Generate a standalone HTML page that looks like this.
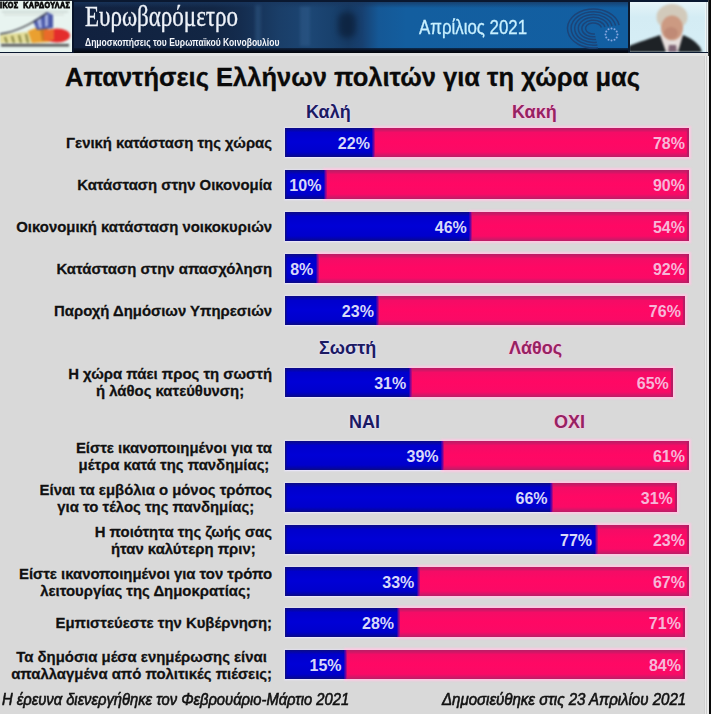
<!DOCTYPE html>
<html><head><meta charset="utf-8">
<style>
*{margin:0;padding:0;box-sizing:border-box}
html,body{width:711px;height:714px;overflow:hidden;background:#d9d9d9;font-family:"Liberation Sans",sans-serif}
#root{position:relative;width:711px;height:714px;background:#d9d9d9}
.abs{position:absolute}
#hdr{position:absolute;left:0;top:0;width:711px;height:56px;background:#e8e8e8}
.bar{position:absolute;height:29px}
.hb{position:absolute;left:0;top:0;height:29px;box-shadow:0 0 1.5px 1.5px rgba(234,230,252,.9)}
.hpk{position:absolute;top:0;height:29px;box-shadow:0 0 1.8px 1.6px rgba(255,200,226,.9)}
.b{position:absolute;left:0;top:0;height:29px;background:linear-gradient(180deg,#0c0c84 0,#0606a6 2px,#0000cc 4.5px,#0000d6 14px,#0000cc 24px,#0404a8 27px,#0c0c80 29px);box-shadow:inset 1.5px 0 1px #0c0c8a;color:#d8d8f8;font-weight:bold;font-size:16px;text-align:right;line-height:31px;padding-right:4px}
.p{position:absolute;top:0;height:29px;background:linear-gradient(180deg,#bc1e66 0,#cc1866 2px,#f40c66 4.5px,#ff0864 14px,#fa0a66 24px,#d41668 27px,#bc1e66 29px);box-shadow:inset -2px 0 1px #b41c64;color:#f6b6d8;font-weight:bold;font-size:16px;text-align:right;line-height:31px;padding-right:4px}
.bl{position:absolute;top:0;width:3px;height:29px;background:linear-gradient(90deg,rgba(30,0,190,.9),rgba(200,10,120,.9))}
.lab{position:absolute;right:439px;font-weight:bold;font-size:14.9px;color:#111;text-align:center;white-space:nowrap;line-height:17.2px;-webkit-text-stroke:0.3px #111;text-shadow:0 0 2px rgba(240,240,240,.8)}
.hk{position:absolute;font-weight:bold;font-size:18px;color:#1c1a62;white-space:nowrap;line-height:20px;text-shadow:0 0 2.5px rgba(232,228,255,1),0 0 1.5px rgba(232,228,255,1)}
.hp{position:absolute;font-weight:bold;font-size:18px;color:#962262;white-space:nowrap;line-height:20px;text-shadow:0 0 2.5px rgba(255,195,228,1),0 0 1.5px rgba(255,195,228,1)}
.foot{position:absolute;font-style:italic;font-size:16px;color:#111;white-space:nowrap;line-height:17px;transform-origin:0 0;transform:scaleX(0.914);-webkit-text-stroke:0.6px #111}
</style></head><body><div id="root">
<div id="hdr">
  <div class="abs" style="left:0;top:0;width:711px;height:56px;background:#e4e4e4"></div>
  <div class="abs" style="left:0;top:0;width:711px;height:53px;background:#0a1830"></div>
  <div class="abs" style="left:74px;top:2px;width:554px;height:48px;background:linear-gradient(90deg,#11213f 0%,#122644 25%,#142c4e 30%,#1a3e68 37%,#1c4674 43%,#18406c 47%,#163a64 49.5%,#174070 52%,#155896 55%,#135e9f 60%,#125fa2 100%)"></div>
  <div class="abs" style="left:255px;top:4px;width:6px;height:44px;background:rgba(80,130,180,.22);filter:blur(1.5px)"></div>
  <div class="abs" style="left:300px;top:6px;width:10px;height:40px;background:rgba(90,140,190,.18);filter:blur(1.5px)"></div>
  <div class="abs" style="left:74px;top:2px;width:554px;height:6px;background:linear-gradient(180deg,rgba(25,55,95,.75),rgba(25,55,95,0))"></div>
  <div class="abs" style="left:338px;top:12px;width:18px;height:26px;background:rgba(6,16,34,.5);border-radius:8px;filter:blur(3px)"></div>
  <div class="abs" style="left:74px;top:48px;width:554px;height:5px;background:linear-gradient(180deg,rgba(10,22,44,.7) 0,#060c1a 60%,#02060c 100%)"></div>
  <!-- logo box -->
  <div class="abs" style="left:0;top:0;width:72px;height:52px;background:#e8f4f0;overflow:hidden">
    <div class="abs" style="left:0px;top:0px;font-weight:bold;font-size:9px;color:#0c0c0c;line-height:10px;white-space:nowrap;transform-origin:0 0;transform:scaleX(0.8);-webkit-text-stroke:0.9px #0c0c0c;letter-spacing:0.5px;filter:blur(0.3px)">ΙΚΟΣ&nbsp;&nbsp;ΚΑΡΔΟΥΛΑΣ</div>
    <svg class="abs" style="left:0;top:0;filter:blur(0.9px)" width="72" height="52" viewBox="0 0 72 52">
      <rect x="2" y="11" width="66" height="1.5" fill="#c8d4d0"/>
      <rect x="4" y="14" width="60" height="1.2" fill="#d4dcd8"/>
      <path d="M0 35 L0 43 L36 43 L34 31 Z" fill="#e2dc98"/>
      <path d="M5 37 L7 43 M12 36 L14 43 M19 35 L21 43 M26 34 L28 43" stroke="#7c7a38" stroke-width="1.8"/>
      <path d="M28 31 L46 24 L50 42 L32 43 Z" fill="#eaa030"/>
      <path d="M40 29 L48 27 L48 40 L42 41Z" fill="#c87a20"/>
      <ellipse cx="57" cy="35.5" rx="13" ry="7" fill="#e42c2c"/>
      <path d="M44 30 L54 29 L54 40 L44 41Z" fill="#ea6a2a"/>
      <path d="M33 21 L47 12 L53 15 L53 28 L37 30 Z" fill="#4a58a8"/>
      <path d="M37 20 L41 18 L42 28 L39 28Z M45 15 L48 14 L48 26 L45 27Z" fill="#a8b4e4"/>
      <path d="M0 34 Q22 31 47 13" fill="none" stroke="#3c3c44" stroke-width="1.5"/>
      <rect x="1" y="44" width="68" height="2.5" fill="#505050"/>
    </svg>
  </div>
  <div class="abs" style="left:0;top:0;width:72px;height:1px;background:#20242c"></div>
  <div class="abs" style="left:72px;top:0;width:2px;height:53px;background:#08142a"></div>
  <!-- title -->
  <div class="abs" style="left:84.5px;top:-1.5px;font-family:'Liberation Serif',serif;font-size:29.5px;color:#eef2f8;white-space:nowrap;transform-origin:0 0;transform:scaleX(0.78);line-height:34px;-webkit-text-stroke:0.35px #eef2f8">Ευρωβαρόμετρο</div>
  <div class="abs" style="left:85px;top:36.5px;font-weight:bold;font-size:10px;color:#f4f6fa;white-space:nowrap;transform-origin:0 0;transform:scaleX(0.855);line-height:12px">Δημοσκοπήσεις του Ευρωπαϊκού Κοινοβουλίου</div>
  <div class="abs" style="left:419px;top:15.5px;font-size:20px;color:#c8f0ff;white-space:nowrap;transform-origin:0 0;transform:scaleX(0.843);line-height:23px;-webkit-text-stroke:0.3px #c8f0ff">Απρίλιος 2021</div>
  <!-- EU parliament logo -->
  <svg class="abs" style="left:562px;top:3px;filter:blur(0.6px)" width="66" height="50" viewBox="0 0 66 50">
    <g fill="none" stroke="#1c4478" stroke-width="1.5">
<path d="M57.1 22.1 A26.0 19.5 0 1 0 36.0 44.7"/>
<path d="M53.6 22.6 A22.4 16.7 0 1 0 35.4 41.9"/>
<path d="M50.0 23.1 A18.8 13.9 0 1 0 34.8 39.2"/>
<path d="M46.5 23.6 A15.2 11.1 0 1 0 34.1 36.4"/>
<path d="M42.9 24.1 A11.6 8.3 0 1 0 33.5 33.7"/>
<path d="M39.4 24.5 A8.0 5.5 0 1 0 32.9 30.9"/>
    </g>
    <g fill="#88a8e0"><circle cx="55.5" cy="31.5" r="1"/><circle cx="54.7" cy="34.5" r="1"/><circle cx="52.5" cy="36.7" r="1"/><circle cx="49.5" cy="37.5" r="1"/><circle cx="46.5" cy="36.7" r="1"/><circle cx="44.3" cy="34.5" r="1"/><circle cx="43.5" cy="31.5" r="1"/><circle cx="44.3" cy="28.5" r="1"/><circle cx="46.5" cy="26.3" r="1"/><circle cx="49.5" cy="25.5" r="1"/><circle cx="52.5" cy="26.3" r="1"/><circle cx="54.7" cy="28.5" r="1"/></g>
  </svg>
  <div class="abs" style="left:628px;top:0;width:2px;height:53px;background:#0c1a2e"></div>
  <!-- photo -->
  <div class="abs" style="left:630px;top:2px;width:78px;height:50px;background:linear-gradient(180deg,#e6f4f8 0%,#d4ecf4 30%,#d6eef6 100%);overflow:hidden">
    <svg class="abs" style="left:-1px;top:0;filter:blur(1px)" width="80" height="50" viewBox="0 0 80 50">
      <rect x="0" y="0" width="80" height="1" fill="#f4fafc"/>
      <ellipse cx="43" cy="15" rx="15.5" ry="13" fill="#d2cabb"/>
      <path d="M0 50 L0 44 C10 40 22 36 31 33 L40 44 L47 44 L54 33 C62 36 67 40 71 45 L73 50 Z" fill="#1e2226"/>
      <path d="M31 33 L36 32 L43 40 L50 32 L54 33 L49 50 L37 50 Z" fill="#e6dedc"/>
      <path d="M40 43 L47 43 L48 50 L39 50Z" fill="#7e6474"/>
      <ellipse cx="43" cy="26" rx="11" ry="12.5" fill="#cc9a82"/>
      <ellipse cx="42" cy="31" rx="7" ry="6" fill="#c08a76"/>
      <path d="M30 20 Q34 11 43 11 Q53 11 56 20 L57 12 Q52 3 43 3 Q33 3 29 12 Z" fill="#d2cabb"/>
    </svg>
  </div>
<div class="abs" style="left:705px;top:2px;width:3px;height:50px;background:#eef6f8"></div><div class="abs" style="left:706px;top:2px;width:1px;height:50px;background:#c8d0d4"></div><div class="abs" style="left:708px;top:0;width:1px;height:56px;background:#444"></div>
</div>

<!-- right edge -->
<div class="abs" style="left:704px;top:56px;width:1px;height:658px;background:#d0d0d0"></div>
<div class="abs" style="left:705px;top:56px;width:4px;height:658px;background:#ebebeb"></div>
<div class="abs" style="left:706px;top:56px;width:1px;height:658px;background:#cdcdcd"></div>
<div class="abs" style="left:709px;top:0;width:2px;height:714px;background:#0a0a0a"></div>

<!-- title -->
<div class="abs" style="left:65px;top:61.6px;font-weight:bold;font-size:25.5px;color:#0a0a0a;white-space:nowrap;line-height:30px;-webkit-text-stroke:0.3px #0a0a0a">Απαντήσεις Ελλήνων πολιτών για τη χώρα μας</div>

<!-- section headers -->
<div class="hk" style="left:306px;top:101.5px">Καλή</div>
<div class="hp" style="left:512px;top:101.5px">Κακή</div>
<div class="hk" style="left:319px;top:338px">Σωστή</div>
<div class="hp" style="left:509px;top:338px">Λάθος</div>
<div class="hk" style="left:349px;top:411.5px">ΝΑΙ</div>
<div class="hp" style="left:554px;top:411.5px">ΟΧΙ</div>

<!-- rows -->
<div class="lab" style="top:135px">Γενική κατάσταση της χώρας</div>
<div class="bar" style="left:285px;top:128px;width:404.0px"><div class="hb" style="width:88.9px"></div><div class="hpk" style="left:88.9px;width:315.1px"></div><div class="b" style="width:88.9px">22%</div><div class="p" style="left:88.9px;width:315.1px">78%</div><div class="bl" style="left:87.4px"></div></div>
<div class="lab" style="top:177px">Κατάσταση στην Οικονομία</div>
<div class="bar" style="left:285px;top:170px;width:404.0px"><div class="hb" style="width:40.4px"></div><div class="hpk" style="left:40.4px;width:363.6px"></div><div class="b" style="width:40.4px">10%</div><div class="p" style="left:40.4px;width:363.6px">90%</div><div class="bl" style="left:38.9px"></div></div>
<div class="lab" style="top:219px">Οικονομική κατάσταση νοικοκυριών</div>
<div class="bar" style="left:285px;top:212px;width:404.0px"><div class="hb" style="width:185.8px"></div><div class="hpk" style="left:185.8px;width:218.2px"></div><div class="b" style="width:185.8px">46%</div><div class="p" style="left:185.8px;width:218.2px">54%</div><div class="bl" style="left:184.3px"></div></div>
<div class="lab" style="top:261px">Κατάσταση στην απασχόληση</div>
<div class="bar" style="left:285px;top:254px;width:404.0px"><div class="hb" style="width:32.3px"></div><div class="hpk" style="left:32.3px;width:371.7px"></div><div class="b" style="width:32.3px">8%</div><div class="p" style="left:32.3px;width:371.7px">92%</div><div class="bl" style="left:30.8px"></div></div>
<div class="lab" style="top:303px">Παροχή Δημόσιων Υπηρεσιών</div>
<div class="bar" style="left:285px;top:296px;width:399.9px"><div class="hb" style="width:92.9px"></div><div class="hpk" style="left:92.9px;width:307.0px"></div><div class="b" style="width:92.9px">23%</div><div class="p" style="left:92.9px;width:307.0px">76%</div><div class="bl" style="left:91.4px"></div></div>
<div class="lab" style="top:366px">Η χώρα πάει προς τη σωστή<br>ή λάθος κατεύθυνση;</div>
<div class="bar" style="left:285px;top:368px;width:387.8px"><div class="hb" style="width:125.2px"></div><div class="hpk" style="left:125.2px;width:262.6px"></div><div class="b" style="width:125.2px">31%</div><div class="p" style="left:125.2px;width:262.6px">65%</div><div class="bl" style="left:123.7px"></div></div>
<div class="lab" style="top:440px">Είστε ικανοποιημένοι για τα<br>μέτρα κατά της πανδημίας;</div>
<div class="bar" style="left:285px;top:441px;width:404.0px"><div class="hb" style="width:157.6px"></div><div class="hpk" style="left:157.6px;width:246.4px"></div><div class="b" style="width:157.6px">39%</div><div class="p" style="left:157.6px;width:246.4px">61%</div><div class="bl" style="left:156.1px"></div></div>
<div class="lab" style="top:482px">Είναι τα εμβόλια ο μόνος τρόπος<br>για το τέλος της πανδημίας;</div>
<div class="bar" style="left:285px;top:483px;width:391.8px"><div class="hb" style="width:266.6px"></div><div class="hpk" style="left:266.6px;width:125.2px"></div><div class="b" style="width:266.6px">66%</div><div class="p" style="left:266.6px;width:125.2px">31%</div><div class="bl" style="left:265.1px"></div></div>
<div class="lab" style="top:524px">Η ποιότητα της ζωής σας<br>ήταν καλύτερη πριν;</div>
<div class="bar" style="left:285px;top:525px;width:404.0px"><div class="hb" style="width:311.1px"></div><div class="hpk" style="left:311.1px;width:92.9px"></div><div class="b" style="width:311.1px">77%</div><div class="p" style="left:311.1px;width:92.9px">23%</div><div class="bl" style="left:309.6px"></div></div>
<div class="lab" style="top:566px">Είστε ικανοποιημένοι για τον τρόπο<br>λειτουργίας της Δημοκρατίας;</div>
<div class="bar" style="left:285px;top:567px;width:404.0px"><div class="hb" style="width:133.3px"></div><div class="hpk" style="left:133.3px;width:270.7px"></div><div class="b" style="width:133.3px">33%</div><div class="p" style="left:133.3px;width:270.7px">67%</div><div class="bl" style="left:131.8px"></div></div>
<div class="lab" style="top:615px">Εμπιστεύεστε την Κυβέρνηση;</div>
<div class="bar" style="left:285px;top:608px;width:399.9px"><div class="hb" style="width:113.1px"></div><div class="hpk" style="left:113.1px;width:286.8px"></div><div class="b" style="width:113.1px">28%</div><div class="p" style="left:113.1px;width:286.8px">71%</div><div class="bl" style="left:111.6px"></div></div>
<div class="lab" style="top:648.5px">Τα δημόσια μέσα ενημέρωσης είναι<br>απαλλαγμένα από πολιτικές πιέσεις;</div>
<div class="bar" style="left:285px;top:649.5px;width:400.0px"><div class="hb" style="width:60.6px"></div><div class="hpk" style="left:60.6px;width:339.4px"></div><div class="b" style="width:60.6px">15%</div><div class="p" style="left:60.6px;width:339.4px">84%</div><div class="bl" style="left:59.1px"></div></div>

<!-- footer -->
<div class="foot" style="left:2px;top:691px;transform:scaleX(0.922)">Η έρευνα διενεργήθηκε τον Φεβρουάριο-Μάρτιο 2021</div>
<div class="foot" style="left:442px;top:691px;transform:scaleX(0.94)">Δημοσιεύθηκε στις 23 Απριλίου 2021</div>
</div></body></html>
